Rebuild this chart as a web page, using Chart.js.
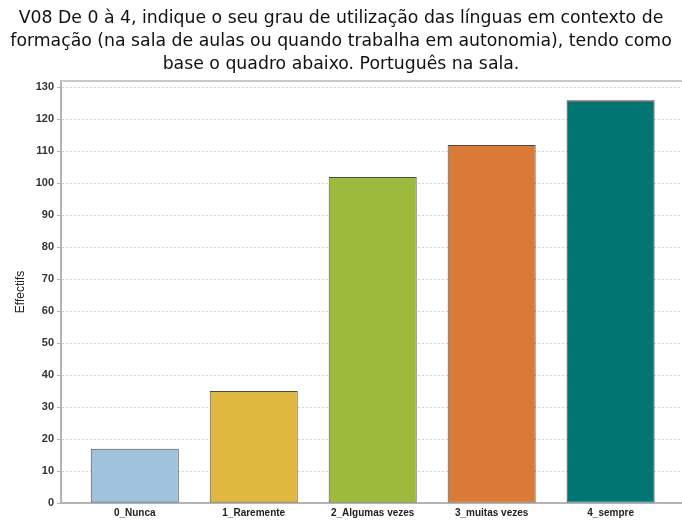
<!DOCTYPE html>
<html>
<head>
<meta charset="utf-8">
<script src="https://cdn.jsdelivr.net/npm/chart.js@4.4.1/dist/chart.umd.min.js"></script>
<style>
  html, body { margin: 0; padding: 0; background: #fff; }
  #wrap { width: 682px; height: 520px; position: relative; }
</style>
</head>
<body>
<div id="wrap"><canvas id="chart"></canvas></div>
<script>
const titleLines = [
  "V08 De 0 à 4, indique o seu grau de utilização das línguas em contexto de",
  "formação (na sala de aulas ou quando trabalha em autonomia), tendo como",
  "base o quadro abaixo. Português na sala.",
];
const categories = ["0_Nunca", "1_Raremente", "2_Algumas vezes", "3_muitas vezes", "4_sempre"];
const counts = [17, 35, 102, 112, 126];
const barColors = ["#9fc3dd", "#e0b73f", "#9cbb3c", "#d97a36", "#007571"];
const yTicks = [0, 10, 20, 30, 40, 50, 60, 70, 80, 90, 100, 110, 120, 130];

const topBorder = {
  id: "topBorder",
  afterDraw(chart) {
    const { ctx, chartArea } = chart;
    ctx.save();
    ctx.strokeStyle = "#c8c8c8";
    ctx.lineWidth = 2;
    ctx.beginPath();
    ctx.moveTo(chartArea.left, chartArea.top);
    ctx.lineTo(chartArea.right, chartArea.top);
    ctx.stroke();
    ctx.restore();
  },
};

new Chart(document.getElementById("chart"), {
  type: "bar",
  data: {
    datasets: [
      {
        data: counts.map((value, index) => ({ x: index, y: value })),
        backgroundColor: barColors,
        borderColor: "#4a4a4a",
        borderWidth: 1,
        borderSkipped: false,
        categoryPercentage: 1,
        barPercentage: 0.74,
      },
    ],
  },
  options: {
    responsive: true,
    maintainAspectRatio: false,
    animation: false,
    layout: { padding: { top: 7, right: 0, bottom: 0, left: 0 } },
    plugins: {
      legend: { display: false },
      tooltip: { enabled: false },
      title: {
        display: true,
        text: titleLines,
        color: "#111",
        font: { family: "DejaVu Sans", size: 17.3, weight: "normal", lineHeight: 1.33 },
        padding: { top: 0, bottom: 5 },
      },
    },
    scales: {
      x: {
        type: "linear",
        offset: false,
        min: -0.62,
        max: 4.6,
        afterBuildTicks(scale) {
          scale.ticks = categories.map((_, index) => ({ value: index }));
        },
        afterFit(scale) {
          scale.height = 17;
        },
        grid: { display: false, drawTicks: false },
        border: { color: "#b4b4b4", width: 2 },
        ticks: {
          color: "#222",
          font: { family: "Liberation Sans", size: 10, weight: "bold" },
          padding: 4,
          callback: (value) => categories[value],
        },
      },
      y: {
        min: 0,
        max: 132,
        afterBuildTicks(scale) {
          scale.ticks = yTicks.map((value) => ({ value }));
        },
        afterFit(scale) {
          scale.width = 61;
        },
        grid: {
          color: "#d2d2d2",
          tickBorderDash: [],
          tickLength: 4,
          tickColor: "#b4b4b4",
        },
        border: { color: "#b4b4b4", width: 2, dash: [2, 2] },
        title: {
          display: true,
          text: "Effectifs",
          color: "#222",
          font: { family: "Liberation Sans", size: 12 },
          padding: { top: 13, bottom: 0 },
        },
        ticks: {
          color: "#333",
          font: { family: "Liberation Sans", size: 11, weight: "bold" },
          padding: 3,
        },
      },
    },
  },
  plugins: [topBorder],
});
</script>
</body>
</html>
